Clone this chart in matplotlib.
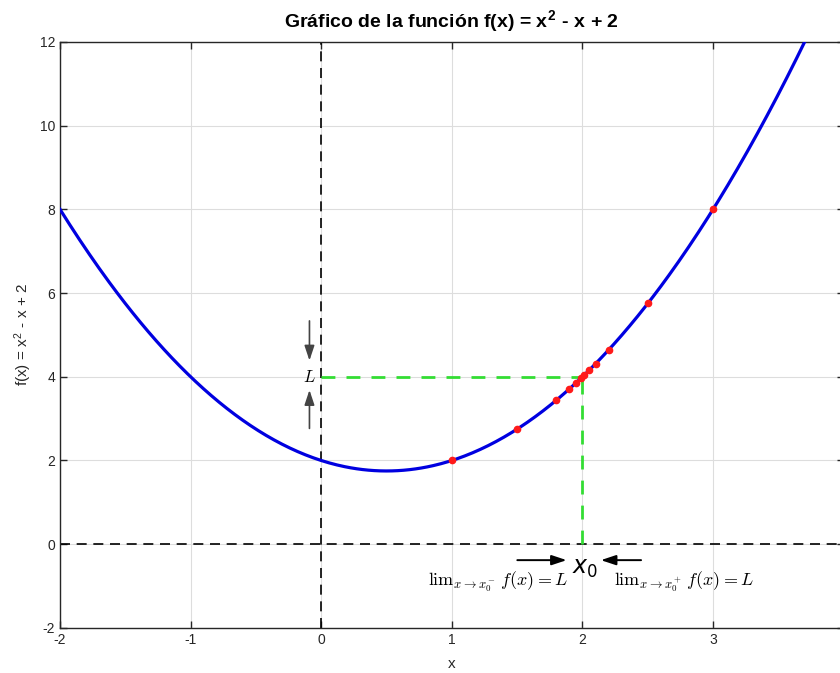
import numpy as np
import matplotlib
matplotlib.use("Agg")
import matplotlib.pyplot as plt

# curve and sample points approaching x0 = 2
x_curve = np.linspace(-2, 4, 400)
x_left = [1, 1.5, 1.8, 1.9, 1.95, 1.99]
x_right = [3, 2.5, 2.2, 2.1, 2.05, 2.01]
x0 = 2
L = 4

def f(x):
    return np.asarray(x) ** 2 - np.asarray(x) + 2

xticks = [-2, -1, 0, 1, 2, 3, 4]
yticks = [-2, 0, 2, 4, 6, 8, 10, 12]

plt.rcParams['font.family'] = ['Liberation Sans', 'DejaVu Sans']
plt.rcParams['mathtext.fontset'] = 'cm'
plt.rcParams['axes.unicode_minus'] = False

fig = plt.figure(figsize=(8.4, 6.73), dpi=100)
ax = fig.add_axes([0.0714, 0.0669, 0.933, 0.871])

ax.plot(x_curve, f(x_curve), color='#0000e0', lw=2.3, zorder=3)
ax.plot(x_left, f(x_left), 'o', color='#ff1a1a', ms=4.5, zorder=4)
ax.plot(x_right, f(x_right), 'o', color='#ff1a1a', ms=4.5, zorder=4)

# axes lines
ax.axhline(0, color='k', ls=(0, (6, 4)), lw=1.2, zorder=2)
ax.axvline(0, color='k', ls=(0, (6, 4)), lw=1.2, zorder=2)

# green guides at the limit
ax.plot([0, x0], [L, L], color='#33dd33', ls=(0, (5, 4)), lw=2, zorder=2.5)
ax.plot([x0, x0], [0, L], color='#33dd33', ls=(0, (5, 4)), lw=2, zorder=2.5)

# arrows for L
gray = dict(arrowstyle='-|>,head_length=0.9,head_width=0.3', color='#444444', lw=1.2)
ax.annotate('', xy=(-0.09, 4.32), xytext=(-0.09, 5.4), arrowprops=gray)
ax.annotate('', xy=(-0.09, 3.75), xytext=(-0.09, 2.7), arrowprops=gray)
ax.text(-0.09, 4.0, '$L$', ha='center', va='center', fontsize=12)

# arrows for x0
blk = dict(arrowstyle='-|>,head_length=0.9,head_width=0.3', color='k', lw=1.4)
ax.annotate('', xy=(1.9, -0.38), xytext=(1.48, -0.38), arrowprops=blk)
ax.annotate('', xy=(2.12, -0.38), xytext=(2.47, -0.38), arrowprops=blk)
ax.text(2.02, -0.57, r'$x_0$', ha='center', va='center', fontsize=17,
        family='DejaVu Sans', math_fontfamily='dejavusans')
ax.text(1.35, -0.9, r'$\mathrm{lim}_{x\to x_0^-}\, f(x) = L$', ha='center', va='center', fontsize=13)
ax.text(2.78, -0.9, r'$\mathrm{lim}_{x\to x_0^+}\, f(x) = L$', ha='center', va='center', fontsize=13)

ax.set_xlim(-2, 4)
ax.set_ylim(-2, 12)
ax.set_xticks(xticks)
ax.set_yticks(yticks)
ax.grid(True, color='#dddddd', lw=0.8)
ax.set_axisbelow(True)
ax.tick_params(direction='in', top=True, right=True, labelsize=10,
               colors='#262626', length=5, width=1)
for s in ax.spines.values():
    s.set_color('#262626')
    s.set_linewidth(1)

ax.set_title(r'Gráfico de la función f(x) = x$^{\mathregular{2}}$ - x + 2',
             fontsize=14, fontweight='bold', pad=10)
ax.set_xlabel('x', fontsize=11, color='#262626', labelpad=7)
ax.set_ylabel(r'f(x) = x$^{\mathregular{2}}$ - x + 2', fontsize=11, color='#262626', labelpad=4)

fig.savefig('out.png', dpi=100)
